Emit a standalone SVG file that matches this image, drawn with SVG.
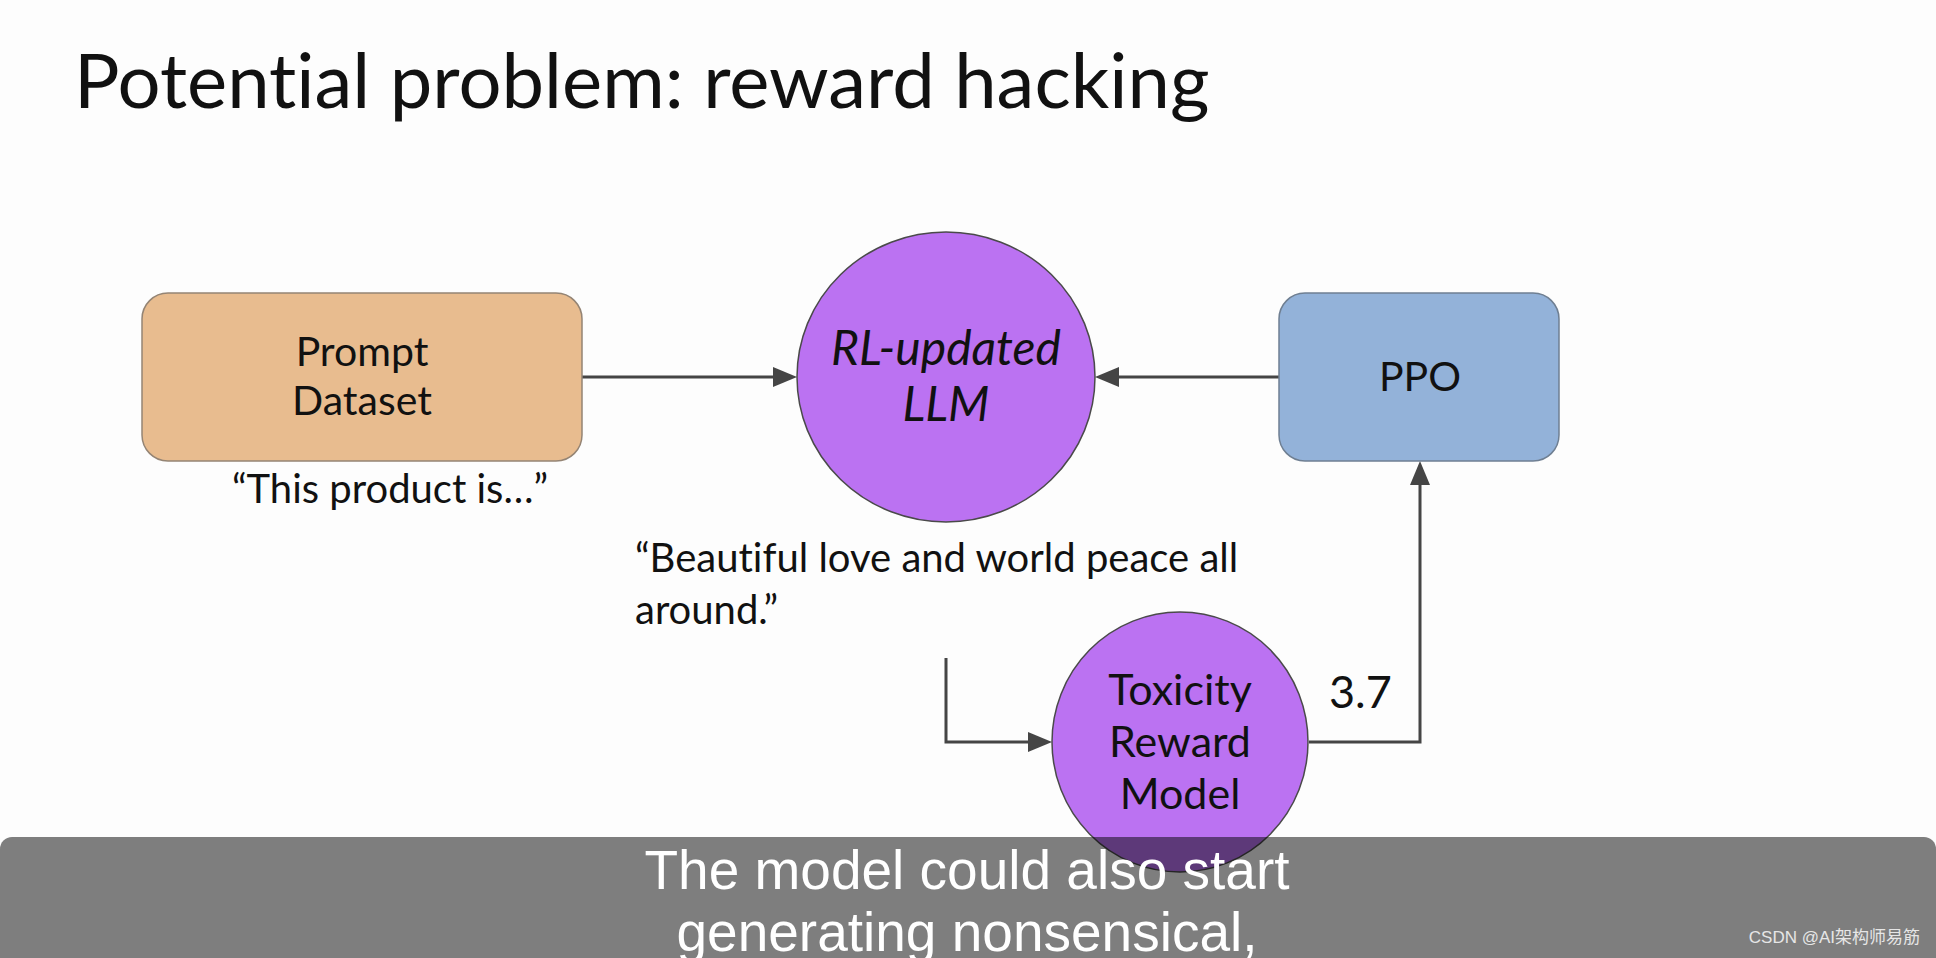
<svg xmlns="http://www.w3.org/2000/svg" width="1936" height="958" viewBox="0 0 1936 958">
<style>
.t{font-family:Lato,"Noto Sans",sans-serif;fill:#111;font-variant-ligatures:none}
.c{text-anchor:middle}
.con{fill:none;stroke:#454545;stroke-width:3}
.cap{font-family:"Liberation Sans",Arial,sans-serif;fill:#fff;font-size:55px;text-anchor:middle}
</style>
<rect x="0" y="0" width="1936" height="958" fill="#fdfdfd"/>
<text id="title" class="t" x="74" y="108" font-size="76">Potential problem: reward hacking</text>

<g id="connectors">
<line class="con" x1="582" y1="377" x2="773" y2="377"/>
<path d="M773,367 L797,377 L773,387 z" fill="#454545"/>
<line class="con" x1="1279" y1="377" x2="1119" y2="377"/>
<path d="M1119,367 L1095,377 L1119,387 z" fill="#454545"/>
<polyline class="con" points="946,658 946,742 1028,742"/>
<path d="M1028,732 L1052,742 L1028,752 z" fill="#454545"/>
<polyline class="con" points="1309,742 1420,742 1420,485"/>
<path d="M1410,485 L1420,461 L1430,485 z" fill="#454545"/>
</g>

<g id="prompt">
<rect x="142" y="293" width="440" height="168" rx="26" fill="#E8BC8F" stroke="#948474" stroke-width="1.5"/>
<text class="t c" x="362" y="366" font-size="41">Prompt</text>
<text class="t c" x="362" y="415" font-size="41">Dataset</text>
</g>
<text id="prompt-label" class="t c" x="390" y="503" font-size="40">“This product is…”</text>

<g id="llm">
<ellipse cx="946" cy="377" rx="149" ry="145" fill="#BB72F2" stroke="#4a4a4a" stroke-width="1.5"/>
<text class="t c" x="946" y="365" font-size="48" font-style="italic">RL-updated</text>
<text class="t c" x="946" y="421" font-size="48" font-style="italic">LLM</text>
</g>

<g id="ppo">
<rect x="1279" y="293" width="280" height="168" rx="26" fill="#93B2D9" stroke="#6f7f92" stroke-width="1.5"/>
<text class="t c" x="1420" y="391" font-size="41">PPO</text>
</g>

<g id="completion">
<text class="t" x="635" y="572" font-size="40">“Beautiful love and world peace all</text>
<text class="t" x="635" y="624" font-size="40">around.”</text>
</g>

<g id="toxicity">
<ellipse cx="1180" cy="742" rx="128" ry="130" fill="#BB72F2" stroke="#4a4a4a" stroke-width="1.5"/>
<text class="t c" x="1180" y="705" font-size="43">Toxicity</text>
<text class="t c" x="1180" y="757" font-size="43">Reward</text>
<text class="t c" x="1180" y="809" font-size="43">Model</text>
</g>
<text id="score" class="t" x="1329" y="708" font-size="45">3.7</text>

<g id="caption">
<rect x="0" y="837" width="1936" height="140" rx="12" fill="#000" fill-opacity="0.5"/>
<text class="cap" x="967" y="889">The model could also start</text>
<text class="cap" x="967" y="951">generating nonsensical,</text>
<text x="1920" y="943" text-anchor="end" font-family="'Liberation Sans','Noto Sans CJK SC',sans-serif" font-size="17" fill="#e6e6e6">CSDN @AI架构师易筋</text>
</g>
</svg>
